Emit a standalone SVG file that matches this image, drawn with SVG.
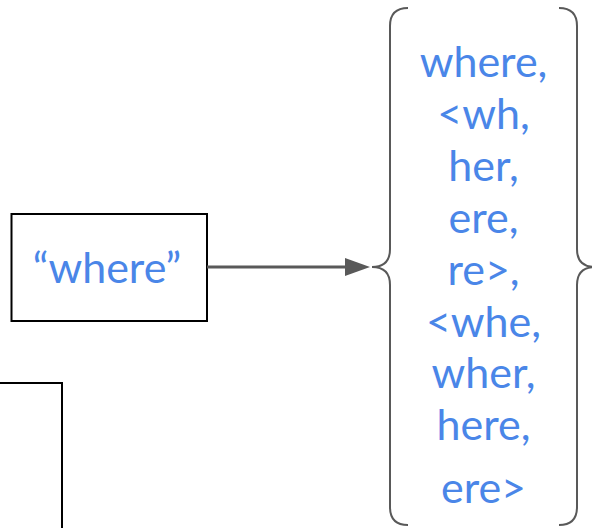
<svg xmlns="http://www.w3.org/2000/svg" width="592" height="528" viewBox="0 0 592 528">
  <style>
    .box { fill: #ffffff; stroke: #000000; stroke-width: 2; }
    .brace { fill: none; stroke: #595959; stroke-width: 2; }
    .lbl { font-family: Lato, "Liberation Sans", sans-serif; font-size: 43px; fill: #4a86e8; text-anchor: middle; }
    .edge { stroke: #595959; stroke-width: 3; fill: none; }
  </style>
  <rect width="592" height="528" fill="#ffffff"/>

  <g id="word">
    <rect class="box" x="11.5" y="214" width="195.5" height="107"/>
    <text class="lbl" x="107" y="283">“where”</text>
  </g>

  <g id="partial-box">
    <rect class="box" x="-10" y="383" width="72" height="160"/>
  </g>

  <g id="ngram-set">
    <path class="brace" d="M408,8 Q390,8 390,26 L390,249 Q390,267 372,267 Q390,267 390,285 L390,507 Q390,525 408,525"/>
    <path class="brace" d="M559,8 Q577,8 577,26 L577,249 Q577,267 595,267 Q577,267 577,285 L577,507 Q577,525 559,525"/>
    <text class="lbl" x="483.5" y="77">where,</text>
    <text class="lbl" x="483.5" y="129">&lt;wh,</text>
    <text class="lbl" x="483.5" y="181">her,</text>
    <text class="lbl" x="483.5" y="233">ere,</text>
    <text class="lbl" x="483.5" y="285">re&gt;,</text>
    <text class="lbl" x="483.5" y="337">&lt;whe,</text>
    <text class="lbl" x="483.5" y="388">wher,</text>
    <text class="lbl" x="483.5" y="440">here,</text>
    <text class="lbl" x="483.5" y="503">ere&gt;</text>
  </g>

  <g id="connectors">
    <line x1="207" y1="267" x2="346" y2="267" class="edge"/>
    <path d="M345,258 L370,267 L345,276 Z" fill="#595959"/>
  </g>
</svg>
